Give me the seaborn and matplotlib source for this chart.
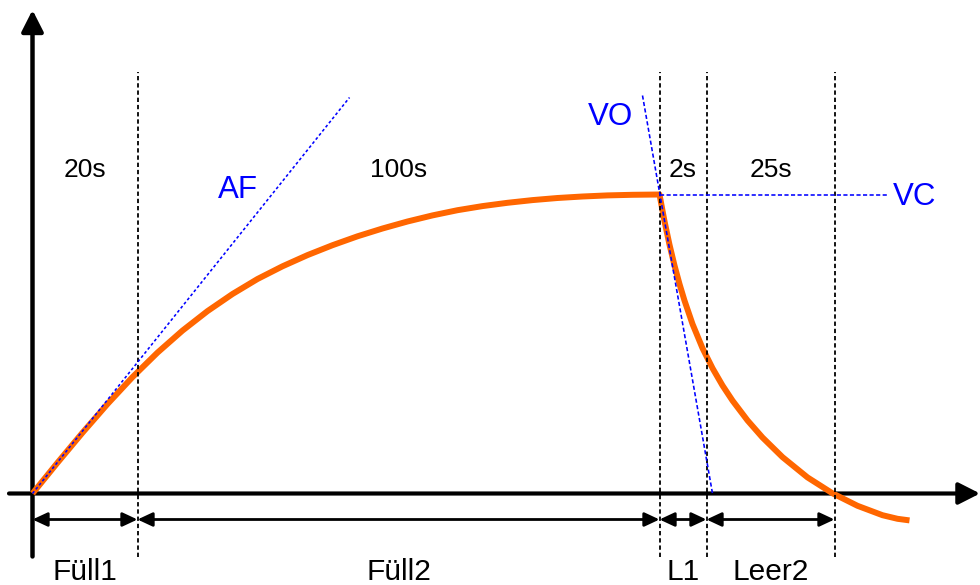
import matplotlib
matplotlib.use("Agg")
import matplotlib.pyplot as plt
import seaborn as sns
import pandas as pd

# Füllstandsverlauf: Zeit (Zeicheneinheiten) und Pegel
rise_t = [0, 25, 50, 75, 100, 125, 150, 175, 200, 225, 250, 275, 300, 325,
          350, 375, 400, 425, 450, 475, 500, 525, 550, 575, 600, 627]
rise_h = [0, 30.8, 60.8, 89.5, 116.4, 140.9, 162.9, 182.4, 199.5, 214.5,
          227.2, 238.4, 248.3, 257.2, 265.0, 272.0, 278.1, 283.3, 287.4,
          290.7, 293.4, 295.5, 297.0, 298.1, 298.7, 299]
fall_t = [632, 637, 642, 647, 652, 660, 670, 680, 690, 700, 715, 730, 750,
          775, 800, 825, 850, 865, 877]
fall_h = [272.3, 248.8, 228.0, 209.5, 192.9, 169.5, 145.3, 125.3, 108.0,
          92.9, 73.1, 56.0, 36.4, 16.1, 0.2, -12.3, -21.7, -25.3, -26.9]

# Phasengrenzen, Dauern und Namen
phase_edges = [0, 105, 627, 674, 802]
phase_durations = ["20s", "100s", "2s", "25s"]
phase_names = ["Füll1", "Füll2", "L1", "Leer2"]

# Hilfsgeraden: Anstieg beim Füllen, Abfall beim Öffnen, Pegel bei geschlossenem Ventil
af_t, af_h = [0, 317], [0, 396]
vo_t, vo_h = [610, 680], [398, 0]
vc_t, vc_h = [627, 855], [299, 299]

sns.set_theme(style="white")
plt.rcParams["font.family"] = ["Liberation Sans", "DejaVu Sans"]

ORANGE = "#FF6600"
BLUE = "#0000FF"

fig = plt.figure(figsize=(9.8, 5.85), dpi=100)
ax = fig.add_axes([0, 0, 1, 1])
ax.set_xlim(-32.5, 947.5)
ax.set_ylim(-91.5, 493.5)
ax.axis("off")

# Koordinatenachsen mit Pfeilspitzen
axis_style = "-|>,head_length=0.65,head_width=0.33"
ax.annotate("", xy=(0, 483.5), xytext=(0, -63),
            arrowprops=dict(arrowstyle=axis_style, lw=3.2, color="black",
                            mutation_scale=20, shrinkA=0, shrinkB=0),
            zorder=2)
ax.annotate("", xy=(947.5, 0), xytext=(-23.5, 0),
            arrowprops=dict(arrowstyle=axis_style, lw=3.0, color="black",
                            mutation_scale=20, shrinkA=0, shrinkB=0),
            zorder=2)

# Pegelkurve
curve = pd.DataFrame({"t": rise_t + fall_t, "h": rise_h + fall_h})
sns.lineplot(data=curve, x="t", y="h", ax=ax, color=ORANGE, lw=4.3,
             estimator=None, sort=False, legend=False, zorder=3)
ax.lines[-1].set_solid_capstyle("butt")
ax.lines[-1].set_solid_joinstyle("round")

# Phasengrenzen (gepunktet)
ax.vlines(phase_edges[1:], -63.5, 421.5, colors="black", lw=1.3,
          linestyles=(0, (2.4, 1.6)), zorder=4)

# Hilfsgeraden
for tt, hh, dash in [(af_t, af_h, (1.8, 1.5)),
                     (vo_t, vo_h, (2.6, 1.5)),
                     (vc_t, vc_h, (2.6, 1.5))]:
    sns.lineplot(x=tt, y=hh, ax=ax, color=BLUE, lw=1.15,
                 estimator=None, sort=False, legend=False, zorder=5)
    ax.lines[-1].set_dashes(dash)

# Bemaßungspfeile unter der Zeitachse
for a, b in zip(phase_edges[:-1], phase_edges[1:]):
    ax.annotate("", xy=(b, -26), xytext=(a, -26),
                arrowprops=dict(arrowstyle="<|-|>,head_length=0.9,head_width=0.42",
                                lw=2.0, color="black", mutation_scale=10,
                                shrinkA=0, shrinkB=0),
                zorder=4)

# Beschriftung der Phasen
for a, b, dur, name in zip(phase_edges[:-1], phase_edges[1:],
                           phase_durations, phase_names):
    mid = (a + b) / 2
    ax.text(mid, 316.5, dur, ha="center", va="baseline", fontsize=19,
            color="black")
    ax.text(mid, -86, name, ha="center", va="baseline", fontsize=21.5,
            color="black")

ax.text(205.5, 295.5, "AF", ha="center", va="baseline", fontsize=22.5, color=BLUE)
ax.text(577.5, 368.5, "VO", ha="center", va="baseline", fontsize=22.5, color=BLUE)
ax.text(882.5, 288.5, "VC", ha="center", va="baseline", fontsize=22.5, color=BLUE)

fig.savefig("out.png", dpi=100)
